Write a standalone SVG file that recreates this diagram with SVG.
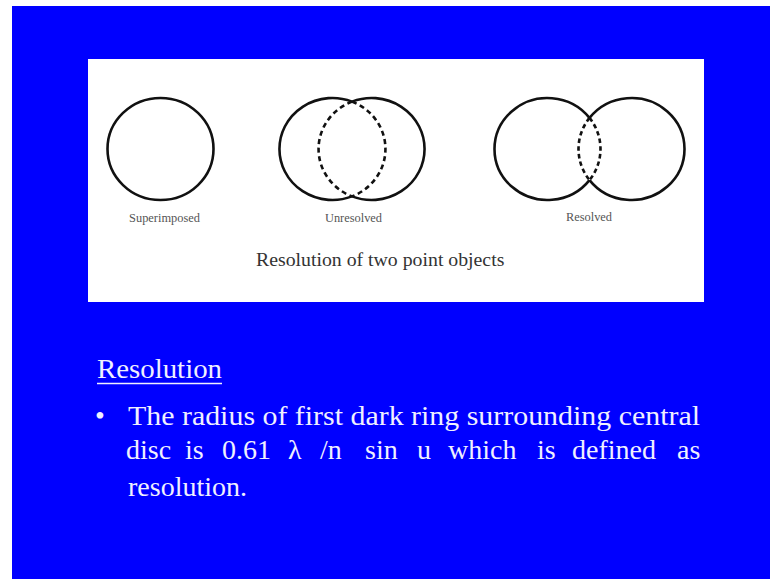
<svg xmlns="http://www.w3.org/2000/svg" width="770" height="579" viewBox="0 0 770 579">
  <style>
    .ring { fill: none; stroke: #111; stroke-width: 2.6; }
    .dash { fill: none; stroke: #111; stroke-width: 2.6; stroke-dasharray: 5 3.6; }
    .dash2 { fill: none; stroke: #111; stroke-width: 2.6; stroke-dasharray: 4.5 3.2; }
    .lbl { font-family: "Liberation Serif", "Times New Roman", serif; font-size: 12.4px; fill: #555; text-anchor: middle; }
    .cap { font-family: "Liberation Serif", "Times New Roman", serif; font-size: 19.8px; fill: #333; }
    .body { font-family: "Liberation Serif", "Times New Roman", serif; font-size: 28px; fill: #f0f0ff; }
  </style>
  <rect x="0" y="0" width="770" height="579" fill="#ffffff"/>
  <rect id="background" x="12" y="6" width="758" height="573" fill="#0000ff"/>
  <rect id="panel" x="88" y="59" width="616" height="243" fill="#ffffff"/>

  <g id="superimposed">
    <ellipse class="ring" cx="160.5" cy="149" rx="53" ry="51"/>
    <text class="lbl" x="164.5" y="222">Superimposed</text>
  </g>

  <g id="unresolved">
    <path class="ring" d="M352,101.6 A53,51 0 1,0 352,196.4"/>
    <path class="ring" d="M352,101.6 A53,51 0 1,1 352,196.4"/>
    <path class="dash" d="M352,101.6 A53,51 0 0,1 352,196.4"/>
    <path class="dash" d="M352,101.6 A53,51 0 0,0 352,196.4"/>
    <text class="lbl" x="353.5" y="222">Unresolved</text>
  </g>

  <g id="resolved">
    <path class="ring" d="M589.5,117.9 A53,51 0 1,0 589.5,180.1"/>
    <path class="ring" d="M589.5,117.9 A53,51 0 1,1 589.5,180.1"/>
    <path class="dash2" d="M589.5,117.9 A53,51 0 0,1 589.5,180.1"/>
    <path class="dash2" d="M589.5,117.9 A53,51 0 0,0 589.5,180.1"/>
    <text class="lbl" x="589" y="221">Resolved</text>
  </g>

  <g id="caption">
    <text class="cap" x="256" y="266">Resolution of two point objects</text>
  </g>

  <g id="heading">
    <text class="body" x="97" y="378" textLength="125" lengthAdjust="spacingAndGlyphs">Resolution</text>
    <line x1="97" y1="383.5" x2="222" y2="383.5" stroke="#f0f0ff" stroke-width="1.6"/>
  </g>

  <g id="bullet-text">
    <text class="body" x="95" y="425">•</text>
    <text class="body" x="128" y="425" textLength="572" lengthAdjust="spacingAndGlyphs">The radius of first dark ring surrounding central</text>
    <text class="body" y="459">
      <tspan x="126">disc</tspan>
      <tspan x="185">is</tspan>
      <tspan x="222">0.61</tspan>
      <tspan x="288">λ</tspan>
      <tspan x="320">/n</tspan>
      <tspan x="365">sin</tspan>
      <tspan x="417">u</tspan>
      <tspan x="448">which</tspan>
      <tspan x="537">is</tspan>
      <tspan x="572">defined</tspan>
      <tspan x="677">as</tspan>
    </text>
    <text class="body" x="128" y="496">resolution.</text>
  </g>
</svg>
